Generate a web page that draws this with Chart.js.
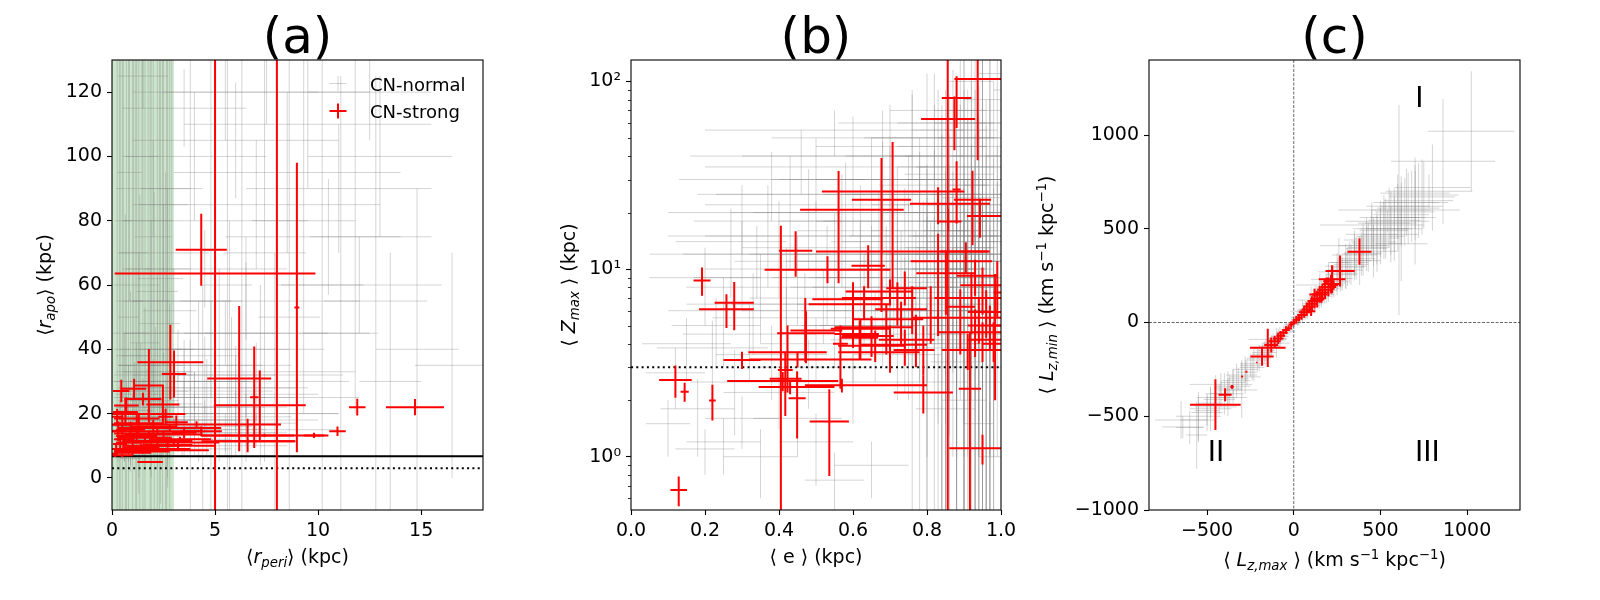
<!DOCTYPE html>
<html lang="en">
<head>
<meta charset="UTF-8" />
<title>CN-normal / CN-strong orbits</title>
<script src="https://cdn.jsdelivr.net/npm/chart.js@4.4.1/dist/chart.umd.min.js"></script>
<style>
  body { margin: 0; background: #fff; }
  #wrap { position: relative; width: 1600px; height: 600px; }
  #wrap canvas { position: absolute; left: 0; top: 0; }
</style>
</head>
<body>
<div id="wrap">
  <canvas id="chartA" width="1600" height="600"></canvas>
  <canvas id="chartB" width="1600" height="600"></canvas>
  <canvas id="chartC" width="1600" height="600"></canvas>
</div>
<script>
// rows: [x, y, xerr, yerr]  or  [x, y, xerrMinus, xerrPlus, yerrMinus, yerrPlus]

// (a) <r_peri> vs <r_apo>
const normalA = [
  [0.3,8,0.3,3],[0.5,10,0.4,4],[0.8,12,0.6,5],[1.0,9,0.7,3],[1.2,14,0.9,6],[1.5,11,1.0,4],
  [1.8,16,1.2,8],[2.0,13,1.3,6],[2.3,18,1.5,10],[2.6,15,1.6,7],[0.4,15,0.4,9],[0.7,18,0.6,12],
  [1.1,21,0.9,15],[1.4,24,1.1,18],[1.7,20,1.4,14],[2.1,27,1.6,20],[2.5,23,1.9,16],[2.8,30,2.0,24],
  [0.2,12,0.2,6],[0.6,25,0.5,20],[0.9,30,0.8,28],[1.3,35,1.0,35],[1.6,28,1.3,25],[1.9,40,1.5,40],
  [2.2,33,1.7,30],[2.7,45,2.2,45],[3.2,20,2.0,12],[3.5,25,2.5,18],[3.8,18,2.2,10],[4.2,30,3.0,25],
  [4.6,22,2.8,15],[5.2,35,3.5,30],[5.8,28,3.2,22],[6.5,40,3.8,35],[7.2,32,4.0,28],[8.0,45,4.5,40],
  [3.0,14,1.5,5],[3.4,11,1.2,4],[2.4,9,1.0,3],[1.6,7,0.8,2],[0.9,6,0.5,2],[4.0,12,1.8,5],
  [5.0,15,2.5,8],[6.0,17,3.0,10],[0.5,40,0.4,90],[0.8,50,0.5,80],[1.2,45,0.6,85],[1.5,60,0.8,70],
  [1.9,55,0.9,75],[2.3,48,1.0,82],[2.7,65,1.1,68],[0.35,30,0.3,100],[1.05,70,0.7,60],[1.75,80,1.2,55],
  [2.45,35,1.0,100],[2.9,90,1.5,45],[0.65,22,0.5,60],[1.35,18,0.9,70],[2.05,24,1.2,65],[2.6,20,1.4,75],
  [0.4,60,0.3,80],[0.7,35,0.4,95],[1.0,55,0.5,90],[1.3,65,0.6,70],[1.6,42,0.7,95],[2.0,75,0.9,60],
  [2.2,58,1.0,75],[2.5,85,1.2,50],[2.8,52,1.3,80],[0.25,45,0.2,85],[0.55,80,0.4,55],[0.85,95,0.6,40],
  [1.45,100,0.8,35],[1.15,38,0.7,100],[1.85,30,1.0,105],[2.35,62,1.1,70],[2.65,40,1.3,95],
  [3.8,40,1.0,95],[4.8,55,1.5,90],[5.6,60,1.2,75],[6.3,45,1.8,90],[7.4,70,2.0,65],[8.6,50,1.5,85],
  [9.3,80,2.5,60],[10.2,60,2.0,70],[11.1,45,1.8,80],[11.8,75,2.2,55],[12.8,55,2.5,70],[13.5,30,1.5,40],
  [14.8,40,2.0,50],[16.5,35,1.8,35],[5.7,30,0.8,50],[7.9,25,1.0,45],[4.4,20,0.6,40],
  [2.0,90,1.8,15],[4.0,100,3.5,20],[3.5,115,3.0,12],[5.5,120,4.5,15],[1.5,125,1.2,10],[6.0,105,5.0,18],
  [7.0,85,6.0,20],[2.5,70,2.2,15],[4.5,65,4.0,12],[8.5,95,5.5,25],[9.5,110,6.0,20],[10.5,75,5.0,18],
  [3.0,55,2.8,10],[6.5,55,5.5,12],[12.0,60,4.0,15],[11.0,90,4.5,20],[13.0,100,3.5,25],[5.0,80,4.5,10],
  [7.5,120,5.0,10],[12.5,120,3.0,15],[3.2,38,3.0,8],[5.5,45,5.0,10],[4.0,27,3.8,6],[6.0,33,5.8,8],
  [2.5,12,2.4,3],[3.5,16,3.3,4],[4.5,19,4.2,5],[3.0,22,2.8,6],[4.0,25,3.5,8],[5.0,28,4.5,7],
  [2.0,32,1.9,5],[3.0,9,2.8,2],[4.5,14,3.5,3],[6.0,20,5.0,5],[5.5,10,3.0,3],[7.0,15,4.0,5],
  [3.8,35,3.5,8],[6.5,25,5.5,6],[1.0,16,1.0,10],[1.5,19,1.3,12],[2.0,22,1.6,14],[0.6,13,0.5,8],
  [1.2,26,1.0,16],[2.4,16,2.0,8],[1.8,11,1.5,5],[0.8,20,0.7,15],[2.7,12,2.2,6],[3.5,30,3.2,10],
  [4.0,18,3.0,8],[5.0,22,3.5,10],[6.0,26,4.0,12],[5.5,14,3.0,6],[6.5,18,3.5,8],[7.0,30,4.5,12],
  [4.5,32,3.5,12],[3.5,20,2.5,10],[8.0,20,3.0,10],[4.8,40,3.8,15]
];
const strongA = [
  [5.0,63.6,4.87,150],[8.0,11.4,3.0,0.9,150,150],[8.97,53,0.12,45],[4.33,71.0,1.24,11.2],
  [6.17,30.9,1.55,22.6],[6.9,25.1,0.2,15.8],[7.17,22.6,2.23,10.8],[6.58,13.2,2.25,5.2],
  [11.9,22.0,0.4,2.6],[14.7,22.0,1.41,2.5],[10.94,14.5,0.4,1.5],[9.8,13.2,0.5,0.8],
  [7.4,13.2,3.1,0.5],[6.6,11.4,2.26,0.5],[2.83,36.0,1.6,11.6],[3.01,32.3,0.59,7.3],
  [1.07,27.7,0.59,3.1],[1.79,28.7,0.72,11.4],[2.47,22.8,0.8,6.0],[0.65,20.5,0.6,4.4],
  [1.78,19.9,1.78,1.5],[3.12,17.3,0.56,2.1],[3.5,14.0,0.6,1.7],[4.33,14.5,1.0,1.5],
  [4.1,16.6,4.1,1.0],[1.85,4.9,0.62,0.3],
  [0.2,9.0,0.2,1.5],[0.4,10.5,0.35,2.0],[0.6,12.0,0.5,1.5],[0.8,8.5,0.6,1.0],[1.0,11.0,0.8,2.0],
  [1.2,13.0,1.0,1.5],[1.4,9.5,0.9,1.0],[1.6,12.5,1.3,1.2],[1.9,10.0,1.4,0.8],[2.2,11.5,1.7,1.0],
  [2.5,13.5,1.9,1.2],[0.3,14.5,0.3,3.0],[0.5,16.5,0.45,4.0],[0.9,15.0,0.7,2.5],[1.3,17.0,1.2,3.0],
  [0.15,7.5,0.15,1.0],[0.5,7.0,0.5,0.6],[1.0,7.8,0.9,0.8],[1.5,8.2,1.3,0.6],[2.0,9.0,1.8,0.6],
  [2.7,10.2,1.2,0.8],[3.3,12.0,1.5,0.8],[0.7,22.5,0.6,2.5],[1.5,24.5,0.9,2.0],[2.0,16.0,1.1,2.0],
  [0.25,19.0,0.25,2.5],[0.45,27.0,0.4,3.5],[2.6,19.0,0.35,2.5],
  [2.2,14.5,2.2,1.0],[2.8,15.5,2.5,1.2],[1.8,13.8,1.7,0.8],[3.0,11.0,2.2,0.6],[2.4,8.6,2.3,0.5],
  [1.2,18.5,1.1,2.0],[3.2,10.0,1.8,1.0]
];

// (b) <e> vs <Z_max>
const normalB = [
  [0.95,30,0.05,100],[0.97,20,0.03,60],[0.93,12,0.05,40],[0.9,45,0.06,90],[0.88,25,0.07,30],
  [0.85,15,0.1,20],[0.82,35,0.1,40],[0.8,10,0.12,9],[0.78,20,0.1,15],[0.75,8,0.12,5],
  [0.72,14,0.15,8],[0.7,25,0.18,20],[0.68,6,0.15,3],[0.65,11,0.2,6],[0.62,18,0.22,10],
  [0.6,5,0.18,2.5],[0.58,9,0.2,4],[0.55,13,0.25,7],[0.52,7,0.2,3],[0.5,4,0.15,1.5],
  [0.48,22,0.28,12],[0.45,10,0.25,5],[0.42,5.5,0.2,2.5],[0.4,15,0.3,8],[0.38,3.5,0.15,1.5],
  [0.35,8,0.2,4],[0.32,4.5,0.18,2],[0.3,12,0.25,6],[0.28,2.5,0.12,1.2],[0.25,6,0.15,3],
  [0.22,3.8,0.15,1.5],[0.2,9,0.15,4],[0.18,1.8,0.1,0.8],[0.15,4,0.12,1.5],[0.12,2.8,0.08,1],
  [0.1,1.5,0.06,0.5],[0.25,1.2,0.1,0.4],[0.35,1.0,0.1,0.4],[0.45,1.6,0.12,0.6],[0.55,0.75,0.08,0.3],
  [0.65,0.9,0.1,0.3],[0.4,2.2,0.15,0.8],[0.86,5,0.06,3],[0.87,8,0.05,5],[0.89,11,0.06,7],
  [0.91,6,0.05,4],[0.92,18,0.05,15],[0.94,9,0.04,6],[0.96,14,0.03,10],[0.98,7,0.02,5],
  [0.99,25,0.01,20],[0.93,40,0.06,50],[0.9,60,0.08,70],[0.95,80,0.05,80],[0.97,50,0.03,90],
  [0.84,30,0.1,35],[0.8,50,0.15,60],[0.76,40,0.18,45],[0.7,45,0.2,30],[0.65,30,0.25,20],
  [0.6,40,0.3,25],[0.55,55,0.35,15],[0.5,35,0.3,15],[0.72,3.5,0.12,1.5],[0.8,4.5,0.1,2],
  [0.88,3.2,0.07,1.5],[0.95,4,0.04,2.5],[0.83,2.5,0.08,1],[0.9,2,0.06,1.8],[0.94,1.5,0.04,1.4],
  [0.97,1,0.03,0.95],[0.85,1.8,0.08,1.7],[0.83,12,0.14,8],[0.77,7,0.16,4],[0.73,10,0.2,6],
  [0.67,16,0.22,10],[0.63,8,0.2,4],[0.57,20,0.3,12],[0.53,11,0.25,6],[0.47,6.5,0.2,3],
  [0.43,25,0.25,15],[0.37,18,0.2,10],[0.33,6.5,0.18,3],[0.27,14,0.15,7],[0.23,5,0.12,2],
  [0.84,22,0.06,30],[0.86,16,0.05,20],[0.88,9,0.04,12],[0.91,28,0.05,35],[0.93,7,0.03,9],
  [0.96,35,0.04,45],[0.98,12,0.02,15],[0.89,70,0.07,60],[0.92,100,0.06,40],[0.86,55,0.1,30],
  [0.78,30,0.2,12],[0.74,18,0.22,9],[0.69,12,0.25,5],[0.81,6,0.18,2],[0.87,4,0.12,1.2],
  [0.85,40,0.15,50],[0.9,30,0.1,60],[0.92,15,0.08,30],[0.94,25,0.06,40],[0.96,8,0.04,15],
  [0.88,5.5,0.08,6],[0.86,10,0.1,14],[0.83,7,0.12,9],[0.8,16,0.15,20],[0.78,25,0.2,25],
  [0.75,12,0.2,10],[0.72,20,0.25,15],[0.7,9,0.2,6],[0.68,30,0.3,18],[0.66,5,0.2,2.5],
  [0.62,12,0.3,6],[0.58,25,0.35,12],[0.55,6,0.25,3],[0.5,15,0.3,8],[0.46,40,0.3,15],
  [0.42,9,0.25,4],[0.38,30,0.25,12],[0.34,12,0.2,5],[0.3,20,0.2,8],[0.95,60,0.05,70],
  [0.93,3,0.07,2.9],[0.97,2.5,0.03,2.4],[0.9,8,0.09,8],[0.87,13,0.1,12],[0.84,4,0.1,3.9],
  [0.99,15,0.02,14],[0.98,40,0.02,60],[0.91,50,0.08,40],[0.82,70,0.12,40],[0.76,60,0.2,30],
  [0.68,50,0.3,20],[0.3,1.6,0.1,0.5],[0.2,1.1,0.08,0.3],[0.5,1.2,0.1,0.5],[0.6,2.5,0.15,1],
  [0.48,3,0.15,1.2],[0.82,9,0.1,6],[0.85,12,0.08,10],[0.87,18,0.07,15],[0.89,7,0.06,5],
  [0.91,10,0.05,9],[0.93,20,0.05,18],[0.95,15,0.04,14],[0.97,9,0.03,8],[0.8,22,0.15,12],
  [0.84,45,0.12,30],[0.88,35,0.1,40],[0.92,55,0.07,45],[0.94,6,0.05,5],[0.96,4.5,0.04,4],
  [0.86,3.8,0.1,2.5],[0.78,5.5,0.15,3],[0.74,4.2,0.2,2],[0.7,6.5,0.25,3.5],[0.9,14,0.1,13],
  [0.98,20,0.02,19],[0.75,30,0.25,10],[0.8,18,0.3,6],[0.85,25,0.25,8],[0.82,14,0.28,5],
  [0.78,9,0.3,4],[0.88,20,0.2,10],[0.9,12,0.2,6],[0.86,7,0.22,3],[0.72,11,0.3,4],
  [0.68,20,0.35,8],[0.92,35,0.15,25],[0.94,45,0.1,50],[0.96,28,0.06,30],[0.91,18,0.12,12],
  [0.89,40,0.15,35],[0.83,50,0.2,40],[0.87,60,0.15,55],[0.93,70,0.08,65],[0.97,110,0.03,60],
  [0.99,90,0.01,80],[0.8,7.5,0.2,3],[0.76,5,0.25,2],[0.84,5.5,0.15,2.5],[0.9,4.5,0.1,3],
  [0.95,6.5,0.05,6],[0.97,12,0.03,11],[0.85,8.5,0.1,7],[0.88,15,0.12,14],[0.92,24,0.08,22],
  [0.94,16,0.06,15],[0.83,10,0.15,5],[0.86,13,0.12,7],[0.89,16,0.1,9],[0.92,11,0.08,8],
  [0.95,18,0.05,12],[0.81,12,0.18,6],[0.84,8,0.14,4],[0.87,6,0.1,3],[0.9,9,0.08,5],
  [0.93,13,0.06,9],[0.96,22,0.04,18],[0.79,15,0.2,8],[0.77,11,0.22,5],[0.74,8,0.25,3.5],
  [0.71,6,0.25,2.5],[0.82,28,0.15,15],[0.86,32,0.12,20],[0.9,22,0.1,14],[0.94,30,0.06,25],
  [0.88,11,0.12,8]
];
const strongB = [
  [0.129,0.664,0.0225,0.12],[0.192,8.7,0.023,1.5],[0.258,6.1,0.074,1.25],[0.279,6.62,0.053,1.9],
  [0.300,3.28,0.05,0.35],[0.120,2.56,0.044,0.5],[0.145,2.22,0.011,0.26],[0.220,1.99,0.009,0.43],
  [0.405,2.6,0.03,0.056,14.4,14.4],[0.41,2.53,0.15,0.15,0.3,0.3],[0.43,2.35,0.085,0.12,0.2,0.2],
  [0.445,12.5,0.045,3.4],[0.531,9.9,0.17,0.17,1.5,1.8],[0.449,2.05,0.023,0.8],[0.536,1.54,0.053,0.75],
  [0.473,4.55,0.078,1.4],[0.423,3.6,0.106,1.4],[0.471,4.7,0.04,0.1,1.5,2.3],[0.417,2.9,0.02,0.02,1.25,0.7],
  [0.45,3.3,0.13,0.2,0.3,0.3],[0.561,25.9,0.045,0.34,17.5,7.4],[0.677,23.4,0.08,0.08,17.5,15.6],
  [0.707,20.7,0.25,0.03,12.8,26.8],[0.83,22.3,0.076,0.14,5,5],[0.88,26.5,0.011,0.011,9,11],
  [0.923,23.4,0.05,0.05,10,10],[0.943,19.2,0.035,0.057,4.5,4.5],[0.857,17.9,0.03,0.036,2,3],
  [0.83,12.4,0.33,0.14,8,3],[0.905,12.4,0.07,0.06,3,1.5],[0.851,9.5,0.08,0.08,3.8,3],
  [0.937,103,0.063,0.063,65,65],[0.88,81.5,0.04,0.04,25,25],[0.874,63,0.09,0.056,20,20],
  [0.856,11,0.1,0.12,130,130],[0.916,2.3,0.03,0.03,2.3,2.3],[0.95,1.11,0.09,0.05,0.2,0.2],
  [0.79,2.2,0.08,0.08,0.5,0.5],[0.57,2.4,0.1,0.23,0.2,0.2],[0.984,5.0,0.016,0.016,3,4.4],
  [0.641,10.4,0.045,0.045,2.5,3.0],[0.566,4.0,0.02,0.02,1.7,1.0],[0.6,4.8,0.06,0.1,1.0,1.0],
  [0.618,4.3,0.05,0.05,1.0,1.0],
  [0.74,7.9,0.05,0.06,1.5,1.8],[0.70,7.6,0.12,0.06,1.2,1.2],[0.72,7.0,0.15,0.05,2.0,1.5],
  [0.76,6.1,0.1,0.04,1.6,2.0],[0.73,5.4,0.13,0.06,1.5,1.3],[0.69,4.9,0.14,0.07,1.4,1.6],
  [0.65,4.4,0.08,0.06,1.0,1.2],[0.62,4.5,0.07,0.05,1.2,0.9],[0.77,4.2,0.1,0.05,1.2,1.5],
  [0.74,3.95,0.12,0.06,0.9,0.8],[0.79,3.7,0.08,0.03,1.0,1.3],[0.70,3.6,0.14,0.08,0.8,1.4],
  [0.66,3.9,0.1,0.08,0.7,0.8],[0.81,5.5,0.05,0.02,1.5,2.6],[0.60,6.5,0.12,0.1,2.0,2.0],
  [0.63,6.9,0.14,0.05,1.5,1.2],
  [0.93,9.2,0.05,0.06,2.0,2.0],[0.95,8.2,0.06,0.05,2.5,2.0],[0.92,7.0,0.1,0.08,2.5,2.5],
  [0.96,5.9,0.05,0.04,1.6,1.8],[0.94,5.5,0.12,0.06,1.5,1.5],[0.97,5.0,0.06,0.03,1.3,1.4],
  [0.93,4.6,0.1,0.07,1.2,1.5],[0.95,4.2,0.04,0.05,1.0,1.0],[0.98,4.0,0.03,0.02,0.8,1.2],
  [0.91,3.7,0.07,0.09,0.8,0.8],[0.89,6.3,0.04,0.04,2.8,1.5],[0.99,7.5,0.01,0.01,2.0,3.5]
];

// (c) <L_z,max> vs <L_z,min>
const normalC = [
  [-640,-557,120,120,60,60],[-600,-560,80,90],[-550,-520,100,120],[-500,-480,90,100],[-480,-430,70,80],
  [-450,-400,110,120],[-420,-380,60,70],[-380,-350,80,90],[-350,-320,70,70],[-320,-300,60,60],
  [-300,-280,90,80],[-280,-250,70,70],[-250,-230,60,60],[-230,-220,80,90],[-200,-190,70,70],
  [-180,-170,60,60],[-160,-150,50,60],[-140,-130,60,50],[-120,-110,50,50],[-100,-95,40,40],
  [-80,-75,50,50],[-60,-55,40,40],[-40,-38,35,35],[-20,-20,30,30],[0,-5,30,30],[20,15,35,35],
  [40,35,40,40],[60,55,45,40],[80,70,50,50],[100,90,50,50],[120,110,60,60],[140,130,60,60],
  [160,150,70,70],[180,170,70,70],[200,190,80,80],[220,210,80,80],[250,235,90,90],[280,260,90,90],
  [300,280,100,100],[330,310,100,110],[360,340,110,110],[400,370,110,120],[430,400,120,130],
  [460,430,130,130],[500,460,140,150],[530,500,150,160],[560,530,150,170],[600,560,160,180],
  [640,590,170,180],[680,620,180,190],[720,650,200,200],[750,680,200,180],[540,540,240,60],
  [1024,1020,250,320],[861,860,300,333],[607,600,350,560],[620,420,150,200],[450,520,300,120],
  [-560,-600,60,180],[-650,-520,150,100],[-420,-330,180,60],[-300,-360,90,150],[350,410,200,80],
  [700,560,120,250],[150,200,140,60],[-150,-90,110,40],[260,320,60,130],[780,700,250,90],
  [-500,-470,70,80],[-430,-410,90,80],[-370,-360,70,80],[-330,-310,80,90],[-270,-265,60,70],
  [-240,-240,70,70],[-210,-200,60,60],[-170,-160,70,60],[-130,-125,60,60],[-90,-85,50,50],
  [-50,-50,45,45],[-10,-10,40,40],[30,28,45,45],[70,65,50,50],[110,100,60,55],[150,140,65,65],
  [190,180,75,75],[230,220,80,85],[270,255,90,90],[310,295,95,100],[350,330,100,105],
  [390,365,110,115],[420,395,120,120],[480,450,130,140],[520,490,140,150],[580,545,150,170],
  [620,575,160,170],[660,610,180,190],[700,640,190,200],[740,670,190,200],[800,720,220,230],
  [300,300,120,120],[350,360,130,110],[400,410,140,120],[450,470,150,130],[500,500,160,150],
  [550,560,170,160],[600,620,180,170],[650,640,190,180],[380,330,120,130],[480,420,140,150],
  [580,500,160,170],[-350,-340,100,90],[-400,-380,110,110],[-450,-450,120,120],[-550,-500,130,130],
  [200,230,100,90],[250,270,110,100],[100,120,80,70],[50,60,70,60],[-100,-110,80,80],
  [320,320,110,110],[420,440,130,120],[520,530,150,150],[620,600,170,180],[700,690,200,190],
  [560,470,160,150],[460,380,140,140],[-280,-290,90,90],[-380,-400,110,100],[-480,-460,120,120]
];
const strongC = [
  [-452,-438,146,135],[-396,-385,38,35],[-356,-343,10,10],[-298,-288,4,4],[-273,-263,4,4],
  [-213,-213,2,2],[-183,-181,67,50],[-150,-135,103,102],[-130,-120,40,40],[-110,-100,35,30],
  [-90,-85,30,30],[-75,-70,25,25],[-60,-55,25,20],[-45,-40,20,20],[-30,-30,20,15],[-15,-10,15,15],
  [0,0,15,15],[15,15,20,20],[30,25,20,20],[45,40,25,25],[60,55,30,30],[75,70,30,35],[90,85,35,35],
  [105,100,35,40],[120,115,40,40],[135,125,40,45],[150,150,45,45],[165,160,40,45],[180,175,45,50],
  [200,190,45,50],[215,205,50,50],[221,231,77,75],[267,275,84,83],[379,378,69,70],[160,130,25,25],
  [120,150,30,30],[100,60,25,25],[190,220,20,20],[230,200,25,25]
];

// ticks
const ticksAX = [0, 5, 10, 15];
const ticksAY = [0, 20, 40, 60, 80, 100, 120];
const ticksBX = [0.0, 0.2, 0.4, 0.6, 0.8, 1.0];
const ticksBY = [1, 10, 100];
const labelsBY = ['10\u2070', '10\u00b9', '10\u00b2'];
const minorBY = [0.6, 0.7, 0.8, 0.9, 2, 3, 4, 5, 6, 7, 8, 9, 20, 30, 40, 50, 60, 70, 80, 90];
const ticksCX = [-500, 0, 500, 1000];
const ticksCY = [-1000, -500, 0, 500, 1000];
const seriesNames = ['CN-normal', 'CN-strong'];
const quadrants = [['I', 724, 1150], ['II', -449, -740], ['III', 771, -740]];

const FONT = '"DejaVu Sans"';
const GRAY = 'rgba(128,128,128,0.33)';
const RED = '#ff0000';

function spread(r) {
  return r.length === 4 ? [r[2], r[2], r[3], r[3]] : [r[2], r[3], r[4], r[5]];
}
function num(v) {
  return v < 0 ? '\u2212' + Math.abs(v) : String(v);
}

// rich text: parts [text, style]  style: '' normal, 'i' italic, 'b' italic subscript, 'u' superscript
function drawRich(ctx, parts, x, y, rotate) {
  const base = 19;
  const font = s => (s === 'i' || s === 'b' ? 'italic ' : '') + (s === 'b' || s === 'u' ? base * 0.7 : base) + 'px ' + FONT;
  let w = 0;
  parts.forEach(([t, s]) => { ctx.font = font(s); w += ctx.measureText(t).width; });
  ctx.save();
  ctx.translate(x, y);
  if (rotate) ctx.rotate(-Math.PI / 2);
  ctx.fillStyle = '#000';
  ctx.textAlign = 'left';
  ctx.textBaseline = 'alphabetic';
  let cx = -w / 2;
  parts.forEach(([t, s]) => {
    ctx.font = font(s);
    const dy = s === 'b' ? 4 : s === 'u' ? -7.5 : 0;
    ctx.fillText(t, cx, dy);
    cx += ctx.measureText(t).width;
  });
  ctx.restore();
}

function crossPath(ctx, xs, ys, r, area) {
  const [xl, xh, yl, yh] = spread(r);
  const px = xs.getPixelForValue(r[0]);
  const py = ys.getPixelForValue(r[1]);
  const lo = r[1] - yl;
  const pyLo = (ys.type === 'logarithmic' && lo <= 0) ? area.bottom + 50 : ys.getPixelForValue(lo);
  ctx.beginPath();
  ctx.moveTo(xs.getPixelForValue(r[0] - xl), py);
  ctx.lineTo(xs.getPixelForValue(r[0] + xh), py);
  ctx.moveTo(px, pyLo);
  ctx.lineTo(px, ys.getPixelForValue(r[1] + yh));
  ctx.stroke();
}

const panelPlugin = {
  id: 'panelPlugin',
  beforeDatasetsDraw(chart) {
    const p = chart.options.plugins.panelPlugin;
    const {ctx, chartArea: a, scales: {x}} = chart;
    if (p.span) {
      ctx.save();
      ctx.fillStyle = 'rgba(0,128,0,0.2)';
      const x0 = x.getPixelForValue(p.span[0]), x1 = x.getPixelForValue(p.span[1]);
      ctx.fillRect(x0, a.top, x1 - x0, a.height);
      ctx.restore();
    }
  },
  afterDatasetsDraw(chart) {
    const p = chart.options.plugins.panelPlugin;
    const {ctx, chartArea: a, scales: {x, y}} = chart;
    const ds = chart.data.datasets;
    ctx.save();
    ctx.beginPath();
    ctx.rect(a.left, a.top, a.width, a.height);
    ctx.clip();
    ctx.lineCap = 'butt';
    // gray series
    ctx.strokeStyle = ds[0].borderColor;
    ctx.lineWidth = ds[0].borderWidth;
    ds[0].rows.forEach(r => crossPath(ctx, x, y, r, a));
    // reference lines
    (p.hlines || []).forEach(h => {
      ctx.save();
      ctx.strokeStyle = h.color; ctx.lineWidth = h.width; ctx.setLineDash(h.dash);
      const py = y.getPixelForValue(h.value);
      ctx.beginPath(); ctx.moveTo(a.left, py); ctx.lineTo(a.right, py); ctx.stroke();
      ctx.restore();
    });
    (p.vlines || []).forEach(h => {
      ctx.save();
      ctx.strokeStyle = h.color; ctx.lineWidth = h.width; ctx.setLineDash(h.dash);
      const px = x.getPixelForValue(h.value);
      ctx.beginPath(); ctx.moveTo(px, a.top); ctx.lineTo(px, a.bottom); ctx.stroke();
      ctx.restore();
    });
    // red series
    ctx.strokeStyle = ds[1].borderColor;
    ctx.lineWidth = ds[1].borderWidth;
    ds[1].rows.forEach(r => crossPath(ctx, x, y, r, a));
    ctx.restore();

    ctx.save();
    // frame
    ctx.strokeStyle = '#000'; ctx.lineWidth = 1.1;
    ctx.strokeRect(a.left, a.top, a.width, a.height);
    // minor ticks on log axis
    if (p.minorY) {
      ctx.lineWidth = 0.8;
      ctx.beginPath();
      p.minorY.forEach(v => {
        const py = Math.round(y.getPixelForValue(v)) + 0.5;
        if (py < a.top || py > a.bottom) return;
        ctx.moveTo(a.left, py); ctx.lineTo(a.left - 3, py);
      });
      ctx.stroke();
    }
    // in-axes text
    (p.notes || []).forEach(([t, vx, vy]) => {
      ctx.font = '28px ' + FONT; ctx.fillStyle = '#000';
      ctx.textAlign = 'center'; ctx.textBaseline = 'alphabetic';
      ctx.fillText(t, x.getPixelForValue(vx), y.getPixelForValue(vy));
    });
    // title
    ctx.font = '50px ' + FONT; ctx.fillStyle = '#000';
    ctx.textAlign = 'center'; ctx.textBaseline = 'alphabetic';
    ctx.fillText(p.title, (a.left + a.right) / 2, 53);
    // axis labels
    drawRich(ctx, p.xLabel, (a.left + a.right) / 2, p.xLabelY, false);
    drawRich(ctx, p.yLabel, p.yLabelX, (a.top + a.bottom) / 2, true);
    // legend
    if (p.legend) {
      ds.forEach((d, i) => {
        const cx = p.legend.x, cy = p.legend.y + i * 27.5;
        ctx.strokeStyle = d.legendColor; ctx.lineWidth = d.borderWidth;
        ctx.beginPath();
        ctx.moveTo(cx - 8.5, cy); ctx.lineTo(cx + 8.5, cy);
        ctx.moveTo(cx, cy - 7.5); ctx.lineTo(cx, cy + 7.5);
        ctx.stroke();
        ctx.font = '18px ' + FONT; ctx.fillStyle = '#000';
        ctx.textAlign = 'left'; ctx.textBaseline = 'alphabetic';
        ctx.fillText(d.label, cx + 32, cy + 7);
      });
    }
    ctx.restore();
  }
};

function makeScale(type, min, max, ticks, fmt, isX) {
  return {
    type, min, max,
    afterBuildTicks: s => { s.ticks = ticks.map(v => ({value: v})); },
    afterFit: s => { if (isX) s.height = 60; else s.width = 75; },
    grid: { drawOnChartArea: false, drawTicks: true, tickLength: 5, tickColor: '#000', tickWidth: 1.1 },
    border: { display: false },
    ticks: {
      color: '#000', font: { family: 'DejaVu Sans', size: 19 }, padding: 5,
      autoSkip: false, maxRotation: 0, minRotation: 0,
      callback: (v, i) => fmt(v, i)
    }
  };
}

function makeChart(id, frame, normal, strong, xScale, yScale, extra) {
  new Chart(document.getElementById(id), {
    type: 'scatter',
    data: {
      datasets: [
        { label: seriesNames[0], rows: normal, data: normal.map(r => ({x: r[0], y: r[1]})),
          borderColor: GRAY, legendColor: 'rgba(128,128,128,0.35)', borderWidth: 1, pointRadius: 0 },
        { label: seriesNames[1], rows: strong, data: strong.map(r => ({x: r[0], y: r[1]})),
          borderColor: RED, legendColor: RED, borderWidth: 2, pointRadius: 0 }
      ]
    },
    options: {
      responsive: false, animation: false, devicePixelRatio: 1,
      layout: { padding: { left: frame.left - 75, right: 1600 - frame.right, top: 60, bottom: 30 } },
      plugins: { legend: { display: false }, tooltip: { enabled: false }, panelPlugin: extra },
      scales: { x: xScale, y: yScale }
    },
    plugins: [panelPlugin]
  });
}

makeChart('chartA', { left: 112, right: 483 }, normalA, strongA,
  makeScale('linear', 0, 18, ticksAX, num, true),
  makeScale('linear', -10, 130, ticksAY, num, false),
  {
    title: '(a)', span: [0, 3],
    hlines: [
      { value: 6.7, color: '#000', width: 2, dash: [] },
      { value: 3, color: '#000', width: 2, dash: [2, 3.3] }
    ],
    xLabel: [['\u27e8', ''], ['r', 'i'], ['peri', 'b'], ['\u27e9 (kpc)', '']], xLabelY: 563,
    yLabel: [['\u27e8', ''], ['r', 'i'], ['apo', 'b'], ['\u27e9 (kpc)', '']], yLabelX: 51,
    legend: { x: 338, y: 83.5 }
  });

makeChart('chartB', { left: 631, right: 1001 }, normalB, strongB,
  makeScale('linear', 0, 1, ticksBX, v => v.toFixed(1), true),
  makeScale('logarithmic', 0.52, 130, ticksBY, (v, i) => labelsBY[i], false),
  {
    title: '(b)', minorY: minorBY,
    hlines: [{ value: 3, color: '#000', width: 2, dash: [2, 3.3] }],
    xLabel: [['\u27e8 e \u27e9 (kpc)', '']], xLabelY: 563,
    yLabel: [['\u27e8 ', ''], ['Z', 'i'], ['max', 'b'], [' \u27e9 (kpc)', '']], yLabelX: 575
  });

makeChart('chartC', { left: 1149, right: 1520 }, normalC, strongC,
  makeScale('linear', -835, 1305, ticksCX, num, true),
  makeScale('linear', -1000, 1400, ticksCY, num, false),
  {
    title: '(c)', notes: quadrants,
    hlines: [{ value: 0, color: 'rgba(0,0,0,0.75)', width: 0.8, dash: [3, 1.5] }],
    vlines: [{ value: 0, color: 'rgba(0,0,0,0.75)', width: 0.8, dash: [3, 1.5] }],
    xLabel: [['\u27e8 ', ''], ['L', 'i'], ['z,max', 'b'], [' \u27e9 (km s', ''], ['\u22121', 'u'], [' kpc', ''], ['\u22121', 'u'], [')', '']],
    xLabelY: 566,
    yLabel: [['\u27e8 ', ''], ['L', 'i'], ['z,min', 'b'], [' \u27e9 (km s', ''], ['\u22121', 'u'], [' kpc', ''], ['\u22121', 'u'], [')', '']],
    yLabelX: 1053
  });
</script>
</body>
</html>
